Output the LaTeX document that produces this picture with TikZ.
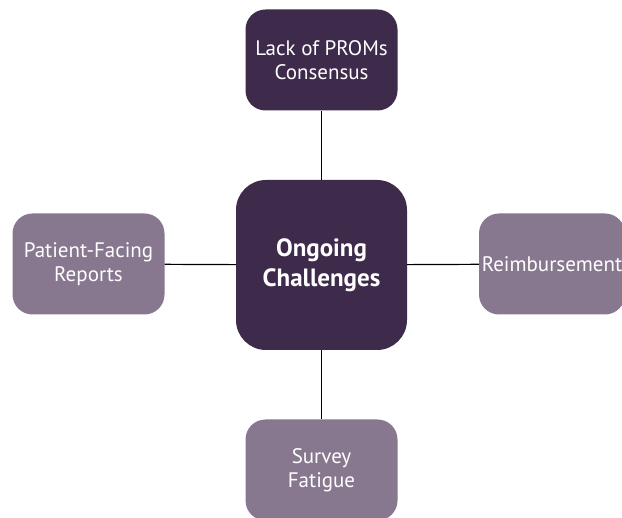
\documentclass[tikz,border=0pt]{standalone}
\usepackage{fontspec}
\setmainfont{PT Sans}
\definecolor{darkplum}{HTML}{3E2A4B}
\definecolor{lightplum}{HTML}{87778F}
\tikzset{
  hub/.style={rectangle, rounded corners=30pt, fill=darkplum, text=white,
    minimum width=171pt, minimum height=170pt, align=center,
    font=\fontsize{25}{30}\selectfont\bfseries},
  topic/.style={rectangle, rounded corners=20pt, fill=#1, text=white,
    minimum width=152pt, minimum height=101pt, align=center,
    inner xsep=2pt, font=\fontsize{21}{24}\selectfont},
  link/.style={line width=1.2pt, black}
}
\begin{document}
\begin{tikzpicture}[x=1pt,y=-1pt]
\useasboundingbox (0,0) rectangle (622,518);
\node[hub] (mid) at (321.5,265) {Ongoing\\Challenges};
\node[topic=darkplum] (top) at (321.5,60) {Lack of PROMs\\Consensus};
\node[topic=lightplum] (left) at (88.5,264) {Patient-Facing\\Reports};
\node[topic=lightplum, minimum width=146pt] (right) at (552,264) {Reimbursement};
\node[topic=lightplum] (bot) at (321.5,470) {Survey\\Fatigue};
\draw[link] (top) -- (mid);
\draw[link] (mid) -- (left);
\draw[link] (mid) -- (right);
\draw[link] (mid) -- (bot);
\end{tikzpicture}
\end{document}
